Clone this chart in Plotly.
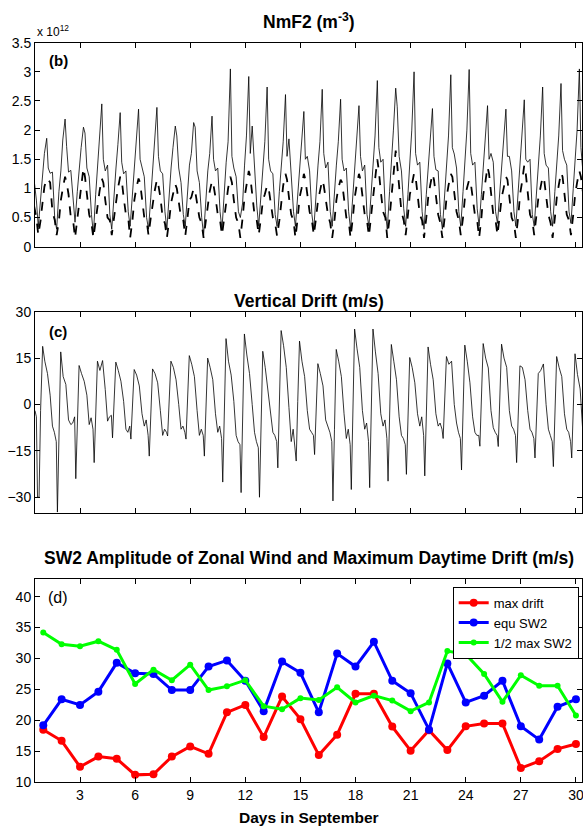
import plotly.graph_objects as go

# ---------------- Panel (b): NmF2 (units of 1e12 m^-3) ----------------
nm_hours = [1.5, 4.5, 6.5, 9, 12, 15, 17.5, 20.5, 23]
nm_day0_hours = [12, 15, 17.5, 20.5, 23]
nm_solid_day0 = [1.15, 0.8, 0.34, 0.85, 1.2]
nm_solid = [
    [1.6, 1.86, 1.35, 1.26, 1.28, 0.48, 0.3, 0.95, 1.3],
    [1.83, 2.19, 1.72, 1.28, 1.31, 0.8, 0.42, 0.95, 1.35],
    [1.7, 2.05, 1.95, 1.35, 1.2, 0.55, 0.22, 0.9, 1.4],
    [1.8, 2.45, 1.5, 1.3, 1.4, 0.55, 0.3, 0.95, 1.35],
    [1.75, 2.30, 1.45, 1.25, 1.3, 0.6, 0.35, 0.9, 1.3],
    [1.8, 2.36, 1.5, 1.35, 1.2, 0.5, 0.3, 0.85, 1.3],
    [1.85, 2.39, 1.55, 1.3, 1.25, 0.6, 0.3, 0.9, 1.35],
    [1.7, 2.07, 1.9, 1.35, 1.1, 0.55, 0.35, 0.9, 1.4],
    [1.6, 2.13, 2.05, 1.3, 1.1, 0.5, 0.2, 0.8, 1.3],
    [1.6, 2.24, 1.5, 1.3, 1.35, 0.6, 0.3, 0.95, 1.45],
    [1.8, 3.05, 1.55, 1.35, 1.2, 0.6, 0.5, 0.75, 1.4],
    [1.9, 2.92, 1.6, 2.07, 1.3, 0.7, 0.35, 0.9, 1.4],
    [1.8, 2.74, 1.5, 1.3, 1.25, 0.55, 0.35, 0.95, 1.35],
    [1.8, 2.61, 1.55, 1.85, 1.2, 0.6, 0.35, 0.9, 1.3],
    [1.7, 2.32, 1.5, 1.55, 1.3, 0.55, 0.3, 0.95, 1.4],
    [1.8, 2.70, 1.6, 1.35, 1.45, 0.6, 0.35, 1.0, 1.4],
    [1.8, 2.53, 1.5, 1.3, 1.35, 0.6, 0.3, 0.9, 1.4],
    [1.75, 2.42, 1.55, 1.3, 1.4, 0.55, 0.35, 0.9, 1.35],
    [1.9, 2.85, 1.7, 1.45, 1.5, 0.6, 0.3, 0.95, 1.4],
    [2.0, 2.72, 2.4, 1.55, 1.3, 0.65, 0.35, 0.9, 1.4],
    [2.0, 3.0, 1.6, 1.4, 1.45, 0.6, 0.3, 0.9, 1.35],
    [1.7, 2.37, 1.55, 1.32, 1.3, 0.55, 0.3, 0.9, 1.35],
    [1.9, 2.95, 1.7, 1.59, 1.35, 0.6, 0.35, 0.95, 1.4],
    [2.0, 3.04, 1.6, 1.4, 1.45, 0.65, 0.35, 0.9, 1.4],
    [1.75, 2.42, 1.5, 1.6, 1.45, 0.6, 0.4, 0.95, 1.4],
    [1.8, 2.36, 1.55, 1.55, 1.3, 0.6, 0.35, 0.9, 1.4],
    [1.85, 2.52, 1.5, 1.45, 1.5, 0.55, 0.35, 0.95, 1.45],
    [1.9, 2.74, 1.6, 1.4, 1.35, 0.6, 0.35, 0.95, 1.4],
    [1.9, 2.80, 1.65, 1.5, 1.4, 0.6, 0.4, 1.0, 1.45],
    [2.0, 3.05, 1.7, 1.3],
]
nm_dash_day0 = [0.7, 0.5, 0.2, 0.45, 0.75]
nm_dash = [
    [1.03, 1.17, 1.15, 1.1, 0.6, 0.46, 0.2, 0.45, 0.8],
    [1.0, 1.2, 1.1, 0.9, 0.5, 0.45, 0.15, 0.5, 0.8],
    [1.1, 1.35, 1.2, 0.85, 0.55, 0.4, 0.15, 0.45, 0.75],
    [0.95, 1.17, 1.1, 0.8, 0.5, 0.45, 0.2, 0.5, 0.8],
    [1.0, 1.2, 1.15, 0.85, 0.55, 0.5, 0.15, 0.45, 0.8],
    [1.0, 1.17, 1.1, 0.8, 0.5, 0.45, 0.2, 0.5, 0.75],
    [0.95, 1.15, 1.05, 0.85, 0.5, 0.4, 0.15, 0.45, 0.75],
    [0.9, 1.07, 1.0, 0.8, 0.5, 0.45, 0.18, 0.5, 0.8],
    [0.85, 1.0, 0.95, 0.75, 0.5, 0.4, 0.15, 0.45, 0.75],
    [0.95, 1.13, 1.05, 0.85, 0.55, 0.45, 0.2, 0.5, 0.8],
    [1.0, 1.2, 1.1, 0.8, 0.5, 0.4, 0.15, 0.5, 0.85],
    [1.05, 1.3, 1.2, 0.9, 0.55, 0.45, 0.2, 0.5, 0.8],
    [0.9, 1.05, 1.0, 0.8, 0.5, 0.4, 0.18, 0.45, 0.8],
    [1.05, 1.25, 1.15, 0.85, 0.55, 0.45, 0.15, 0.5, 0.85],
    [1.0, 1.25, 1.15, 0.9, 0.6, 0.45, 0.2, 0.5, 0.8],
    [0.95, 1.14, 1.05, 0.85, 0.55, 0.4, 0.15, 0.45, 0.8],
    [1.0, 1.15, 1.1, 0.8, 0.5, 0.45, 0.15, 0.5, 0.85],
    [1.05, 1.25, 1.15, 0.9, 0.55, 0.45, 0.18, 0.55, 0.9],
    [1.15, 1.5, 1.3, 0.95, 0.6, 0.5, 0.15, 0.5, 0.9],
    [1.2, 1.65, 1.4, 1.0, 0.6, 0.45, 0.2, 0.55, 0.9],
    [1.05, 1.26, 1.2, 0.9, 0.55, 0.45, 0.15, 0.5, 0.85],
    [1.05, 1.25, 1.15, 0.85, 0.55, 0.4, 0.15, 0.5, 0.85],
    [1.05, 1.25, 1.2, 0.9, 0.6, 0.45, 0.2, 0.5, 0.85],
    [1.0, 1.15, 1.1, 0.85, 0.55, 0.45, 0.15, 0.5, 0.9],
    [1.1, 1.37, 1.25, 0.9, 0.55, 0.45, 0.2, 0.55, 0.85],
    [1.0, 1.2, 1.15, 0.85, 0.5, 0.4, 0.15, 0.5, 0.9],
    [1.1, 1.4, 1.25, 0.9, 0.55, 0.45, 0.2, 0.55, 0.85],
    [1.0, 1.2, 1.15, 0.85, 0.55, 0.4, 0.15, 0.5, 0.85],
    [1.05, 1.27, 1.2, 0.9, 0.55, 0.45, 0.2, 0.55, 0.9],
    [1.1, 1.3, 1.2, 0.95],
]

# ---------------- Panel (c): vertical drift (m/s) ----------------
drift_hours = [2, 5.5, 9, 12, 14.5, 17, 18.5, 20.5, 22.8]
drift_day0_hours = [13.2, 15, 16.5, 18.5, 20.5, 23.2]
drift_day0 = [-2, -4, -30, -30, -2, 18.8]
drift = [
    [14, 10, 3, -7, -9, -12, -34.8, -8, 17.0],
    [9, 6.5, -5, -6.5, -6, -4, -24, -5, 12.6],
    [10, 7.5, 3, -6.5, -4.3, -8, -18.8, -2, 14.0],
    [11, 14.2, 4.8, -5.4, -4, -3.5, -10.8, 1, 13.7],
    [11, 7.5, 1, -8, -9, -7, -11.2, 0, 11.3],
    [9.5, 6, -3, -7, -5, -10, -16.7, -3, 11.5],
    [10, 7, -2, -10, -8, -9, -10.2, 1, 14.0],
    [12, 8, 0, -8, -7, -9, -11.2, 1, 15.8],
    [13, 9, -2, -10, -8, -10, -16.7, -1, 15.0],
    [12, 8, -3, -9, -7, -11, -25.1, -3, 21.3],
    [14, 9.5, 1, -10, -12, -13, -28.5, -4, 22.8],
    [16, 10, 0, -9, -12, -14, -30, -6, 17.2],
    [12, 5, -3, -9, -10, -12, -20.5, -2, 23.9],
    [19, 12, -1, -12, -8, -15, -18.3, 1, 20.5],
    [14, 9, -2, -8, -9, -10, -16.2, -1, 13.2],
    [10, 6, -5, -7, -9, -12, -31.2, -8, 17.8],
    [14, 9, -3, -11, -8, -13, -27.5, -5, 24.4],
    [18, 12, -2, -8, -6, -12, -26.9, -4, 24.4],
    [17, 10, -3, -7, -5, -11, -24.8, -3, 19.4],
    [14, 8, -4, -10, -11, -13, -22.6, -4, 15.2],
    [12, 7, -3, -7, -4, -10, -23.1, -3, 18.6],
    [13, 8, -3, -7, -6, -8, -11.0, 0, 15.5],
    [13, 14, 0, -6, -9, -11, -21.2, -3, 19.2],
    [14, 7, -4, -9, -10, -10, -13.5, 1, 19.7],
    [15, 11.8, -2, -7.5, -9, -10, -13.6, 1, 19.5],
    [15, 12, -2, -7, -8, -10, -18.8, -3, 12.5],
    [12, 8, -2, -8, -9, -11, -17.3, -2, 10.0],
    [11, 13.1, 0, -8, -10, -12, -20.1, -3, 15.5],
    [12, 9, -3, -8, -9, -12, -17.3, -2, 16.4],
    [9.7, 5, -9],
]

# ---------------- Panel (d): daily values ----------------
days = list(range(1, 31))
max_drift = [18.5, 16.7, 12.5, 14.15, 13.8, 11.2, 11.3, 14.15, 15.8, 14.6,
             21.3, 22.5, 17.3, 23.85, 20.2, 14.4, 17.7, 24.3, 24.3, 19.0,
             15.1, 18.4, 15.2, 19.05, 19.5, 19.5, 12.3, 13.4, 15.4, 16.2]
equ_sw2 = [19.2, 23.4, 22.5, 24.65, 29.3, 27.6, 27.5, 24.9, 24.9, 28.7,
           29.7, 26.4, 21.5, 29.5, 27.7, 21.3, 30.8, 28.7, 32.7, 26.4,
           24.4, 18.5, 29.2, 22.9, 24.0, 26.4, 19.05, 16.9, 22.2, 23.4]
half_max_sw2 = [34.2, 32.3, 32.0, 32.8, 31.4, 25.9, 28.2, 26.5, 29.0, 24.9,
                25.5, 26.5, 22.3, 21.8, 23.6, 23.3, 25.35, 22.9, 24.0, 23.2,
                21.5, 22.9, 31.2, 30.7, 27.5, 23.0, 27.3, 25.6, 25.6, 20.8]

x_ticks = [3, 6, 9, 12, 15, 18, 21, 24, 27, 30]


def build(day0_hours, day0_vals, hours, rows):
    t = [h / 24 for h in day0_hours]
    v = list(day0_vals)
    for d, row in enumerate(rows, start=1):
        for h, val in zip(hours, row):
            t.append(d + h / 24)
            v.append(val)
    return t, v


ts, vs = build(nm_day0_hours, nm_solid_day0, nm_hours, nm_solid)
td, vd = build(nm_day0_hours, nm_dash_day0, nm_hours, nm_dash)
tv, vv = build(drift_day0_hours, drift_day0, drift_hours, drift)

H = 828.0


def dom(top_px, bot_px):
    return [1 - bot_px / H, 1 - top_px / H]


def yp(px):
    return 1 - px / H


FONT = "Liberation Sans, Arial, sans-serif"

fig = go.Figure()
fig.add_trace(go.Scatter(x=ts, y=vs, mode="lines", line=dict(color="black", width=0.8),
                         xaxis="x", yaxis="y", showlegend=False))
fig.add_trace(go.Scatter(x=td, y=vd, mode="lines", line=dict(color="black", width=1.8, dash="dash"),
                         xaxis="x", yaxis="y", showlegend=False))
fig.add_trace(go.Scatter(x=tv, y=vv, mode="lines", line=dict(color="black", width=0.8),
                         xaxis="x2", yaxis="y2", showlegend=False))

fig.add_trace(go.Scatter(x=days, y=max_drift, mode="lines+markers", name="max drift",
                         line=dict(color="#FF0000", width=3), marker=dict(size=8, color="#FF0000"),
                         xaxis="x3", yaxis="y3"))
fig.add_trace(go.Scatter(x=days, y=equ_sw2, mode="lines+markers", name="equ SW2",
                         line=dict(color="#0000FF", width=3), marker=dict(size=8, color="#0000FF"),
                         xaxis="x3", yaxis="y3"))
fig.add_trace(go.Scatter(x=days, y=half_max_sw2, mode="lines+markers", name="1/2 max SW2",
                         line=dict(color="#00FF00", width=3), marker=dict(size=6, color="#00FF00"),
                         xaxis="x3", yaxis="y3"))

xcommon = dict(range=[0.55, 30.33], tickvals=x_ticks, ticks="inside", ticklen=5,
               showline=True, mirror="ticks", linecolor="black", linewidth=1,
               tickcolor="black", showgrid=False, zeroline=False, automargin=False,
               ticklabeloverflow="allow",
               tickfont=dict(size=14, color="black", family=FONT))
ycommon = dict(ticks="inside", ticklen=5, showline=True, mirror="ticks", linecolor="black",
               linewidth=1, tickcolor="black", showgrid=False, zeroline=False, automargin=False,
               tickfont=dict(size=14, color="black", family=FONT))

fig.update_layout(
    width=583, height=828,
    margin=dict(l=35, r=1, t=0, b=0),
    paper_bgcolor="white", plot_bgcolor="white",
    font=dict(family=FONT, size=14, color="black"),
    xaxis=dict(xcommon, anchor="y", showticklabels=False),
    yaxis=dict(ycommon, anchor="x", domain=dom(42.7, 246.7), range=[0, 3.5],
               tickvals=[0, 0.5, 1, 1.5, 2, 2.5, 3, 3.5],
               ticktext=["0", "0.5", "1", "1.5", "2", "2.5", "3", "3.5"]),
    xaxis2=dict(xcommon, anchor="y2", showticklabels=False),
    yaxis2=dict(ycommon, anchor="x2", domain=dom(311.7, 512.7), range=[-35, 30],
                tickvals=[-30, -15, 0, 15, 30]),
    xaxis3=dict(xcommon, anchor="y3", showticklabels=True),
    yaxis3=dict(ycommon, anchor="x3", domain=dom(579.3, 782.3), range=[10, 42.8],
                tickvals=[10, 15, 20, 25, 30, 35, 40]),
    legend=dict(x=(452.7 - 35) / 547, y=yp(586.7), xanchor="left", yanchor="top",
                bgcolor="white", bordercolor="black", borderwidth=1,
                font=dict(size=13, family=FONT, color="black"), itemwidth=30,
                tracegroupgap=0),
    showlegend=True,
)

ann = []
ann.append(dict(text="<b>NmF2 (m<sup>-3</sup>)</b>", x=0.5, y=yp(21), xref="paper", yref="paper",
                xanchor="center", yanchor="middle", showarrow=False,
                font=dict(size=17.5, family=FONT, color="black")))
ann.append(dict(text="<b>Vertical Drift (m/s)</b>", x=0.5, y=yp(301), xref="paper", yref="paper",
                xanchor="center", yanchor="middle", showarrow=False,
                font=dict(size=17.5, family=FONT, color="black")))
ann.append(dict(text="<b>SW2 Amplitude of Zonal Wind and Maximum Daytime Drift (m/s)</b>",
                x=0.5, y=yp(558), xref="paper", yref="paper",
                xanchor="center", yanchor="middle", showarrow=False,
                font=dict(size=17.5, family=FONT, color="black")))
ann.append(dict(text="<b>Days in September</b>", x=0.5, y=yp(817), xref="paper", yref="paper",
                xanchor="center", yanchor="middle", showarrow=False,
                font=dict(size=15.5, family=FONT, color="black")))
ann.append(dict(text="x 10<sup>12</sup>", x=0, y=yp(31), xref="paper", yref="paper",
                xanchor="left", yanchor="middle", showarrow=False,
                font=dict(size=12, family=FONT, color="black")))
ann.append(dict(text="<b>(b)</b>", x=(47 - 35) / 547, y=yp(61), xref="paper", yref="paper",
                xanchor="left", yanchor="middle", showarrow=False,
                font=dict(size=15, family=FONT, color="black")))
ann.append(dict(text="<b>(c)</b>", x=(47 - 35) / 547, y=yp(331.5), xref="paper", yref="paper",
                xanchor="left", yanchor="middle", showarrow=False,
                font=dict(size=15, family=FONT, color="black")))
ann.append(dict(text="(d)", x=(46 - 35) / 547, y=yp(597.5), xref="paper", yref="paper",
                xanchor="left", yanchor="middle", showarrow=False,
                font=dict(size=16, family=FONT, color="black")))
fig.update_layout(annotations=ann)

fig.write_html("out.html", config={"displayModeBar": False},
               post_script="document.body.style.margin='0';document.body.style.overflow='hidden';")
